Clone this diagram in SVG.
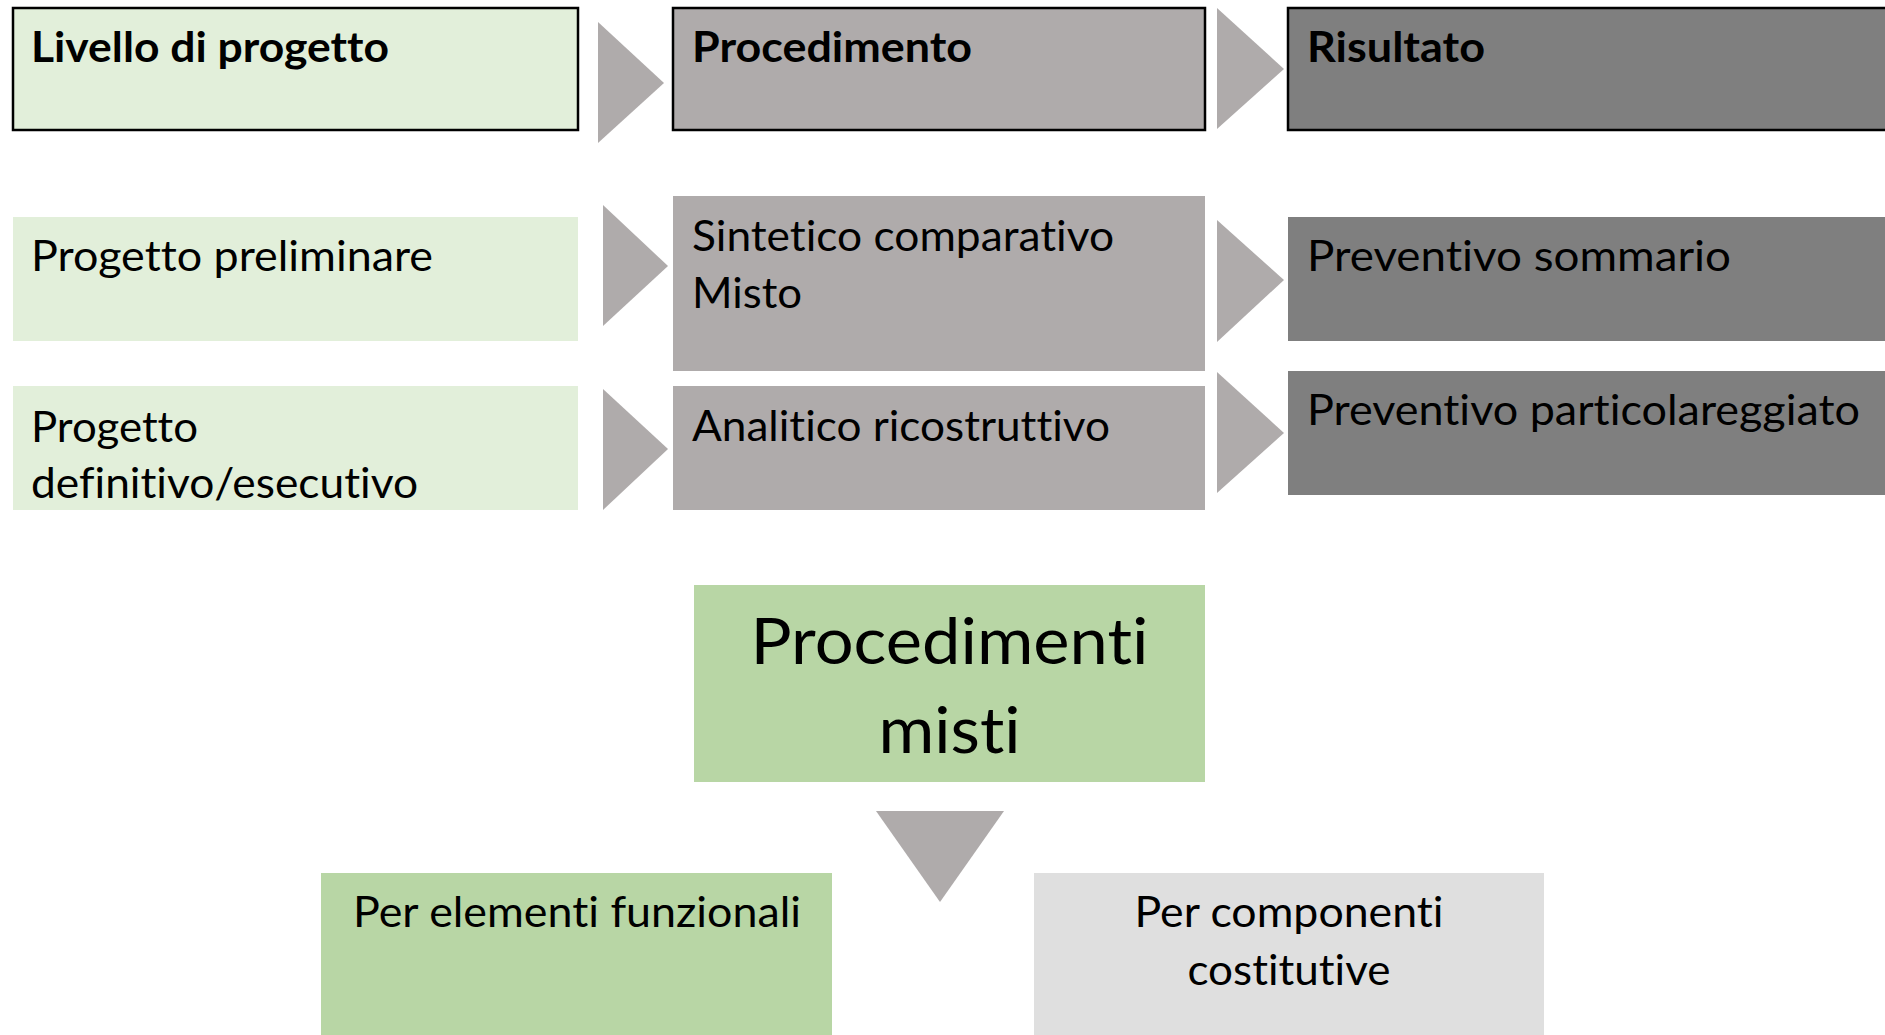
<svg xmlns="http://www.w3.org/2000/svg" width="1885" height="1035" viewBox="0 0 1885 1035">
<style>
.t{font-family:Lato,"Open Sans","Liberation Sans",sans-serif;font-size:42px;fill:#000;font-variant-ligatures:none}
.b{font-weight:bold}
.big{font-size:64px}
.c{text-anchor:middle}
.lg{fill:#E2EFDA}
.pg{fill:#AFABAB}
.rg{fill:#7F7F7F}
.hd{stroke:#000;stroke-width:2.5}
.ar{fill:#AFABAB}
</style>
<rect width="1885" height="1035" fill="#fff"/>
<g id="connectors">
<polygon class="ar" points="598,22 664,83 598,143"/>
<polygon class="ar" points="1217,8 1284,69 1217,129"/>
<polygon class="ar" points="603,205 668,266 603,326"/>
<polygon class="ar" points="1217,220 1284,280 1217,342"/>
<polygon class="ar" points="603,389 668,449 603,510"/>
<polygon class="ar" points="1217,372 1284,433 1217,493"/>
<polygon class="ar" points="876,811 1004,811 940,902"/>
</g>
<g id="h-livello">
<rect class="lg hd" x="13" y="8" width="565" height="122"/>
<text class="t b" x="31" y="62" textLength="358" lengthAdjust="spacingAndGlyphs">Livello di progetto</text>
</g>
<g id="h-procedimento">
<rect class="pg hd" x="673" y="8" width="532" height="122"/>
<text class="t b" x="692" y="62" textLength="280" lengthAdjust="spacingAndGlyphs">Procedimento</text>
</g>
<g id="h-risultato">
<rect class="rg hd" x="1288" y="8" width="610" height="122"/>
<text class="t b" x="1307" y="62" textLength="178" lengthAdjust="spacingAndGlyphs">Risultato</text>
</g>
<g id="l-preliminare">
<rect class="lg" x="13" y="217" width="565" height="124"/>
<text class="t" x="31" y="271" textLength="402" lengthAdjust="spacingAndGlyphs">Progetto preliminare</text>
</g>
<g id="l-definitivo">
<rect class="lg" x="13" y="386" width="565" height="124"/>
<text class="t" x="31" y="442" textLength="167" lengthAdjust="spacingAndGlyphs">Progetto</text>
<text class="t" x="31" y="498" textLength="387" lengthAdjust="spacingAndGlyphs">definitivo/esecutivo</text>
</g>
<g id="p-sintetico">
<rect class="pg" x="673" y="196" width="532" height="175"/>
<text class="t" x="692" y="251" textLength="422" lengthAdjust="spacingAndGlyphs">Sintetico comparativo</text>
<text class="t" x="692" y="308" textLength="110" lengthAdjust="spacingAndGlyphs">Misto</text>
</g>
<g id="p-analitico">
<rect class="pg" x="673" y="386" width="532" height="124"/>
<text class="t" x="692" y="441" textLength="418" lengthAdjust="spacingAndGlyphs">Analitico ricostruttivo</text>
</g>
<g id="r-sommario">
<rect class="rg" x="1288" y="217" width="600" height="124"/>
<text class="t" x="1307" y="271" textLength="424" lengthAdjust="spacingAndGlyphs">Preventivo sommario</text>
</g>
<g id="r-particolareggiato">
<rect class="rg" x="1288" y="371" width="600" height="124"/>
<text class="t" x="1307" y="425" textLength="553" lengthAdjust="spacingAndGlyphs">Preventivo particolareggiato</text>
</g>
<g id="misti">
<rect fill="#B8D6A5" x="694" y="585" width="511" height="197"/>
<text class="t big c" x="949.5" y="664" textLength="398" lengthAdjust="spacingAndGlyphs">Procedimenti</text>
<text class="t big c" x="949.5" y="753" textLength="142" lengthAdjust="spacingAndGlyphs">misti</text>
</g>
<g id="funzionali">
<rect fill="#B8D6A5" x="321" y="873" width="511" height="170"/>
<text class="t c" x="577" y="927" textLength="448" lengthAdjust="spacingAndGlyphs">Per elementi funzionali</text>
</g>
<g id="costitutive">
<rect fill="#DFDFDF" x="1034" y="873" width="510" height="170"/>
<text class="t c" x="1289" y="927" textLength="309" lengthAdjust="spacingAndGlyphs">Per componenti</text>
<text class="t c" x="1289" y="985" textLength="203" lengthAdjust="spacingAndGlyphs">costitutive</text>
</g>
</svg>
